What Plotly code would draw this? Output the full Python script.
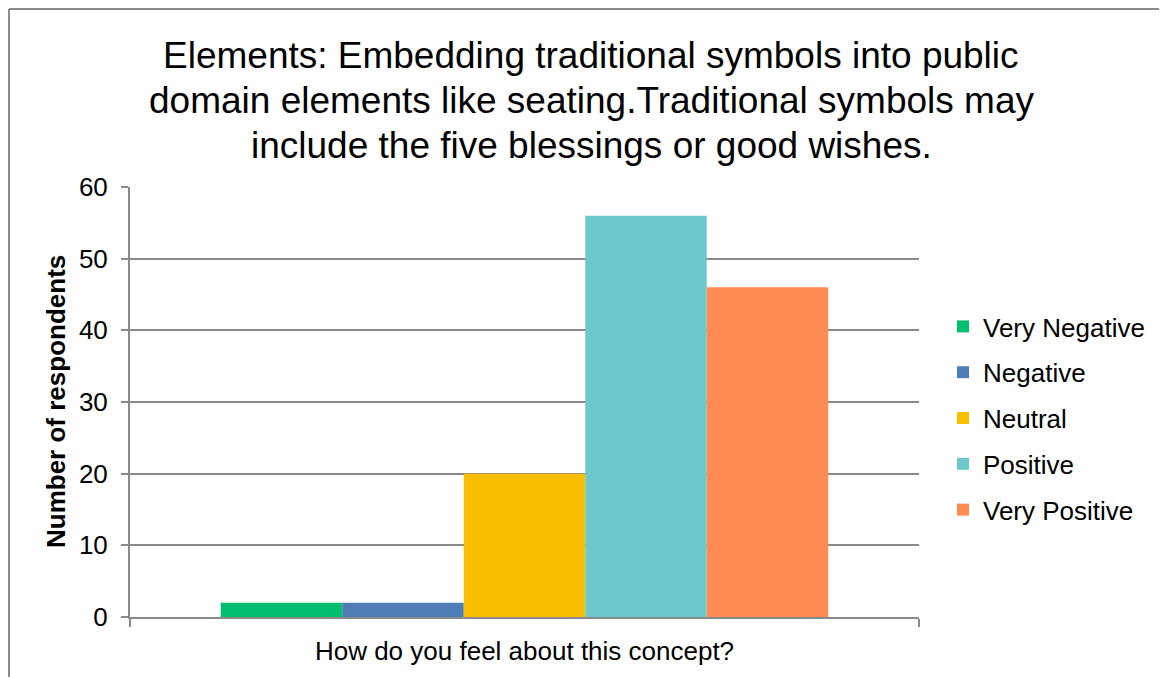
import plotly.graph_objects as go

categories = ["How do you feel about this concept?"]
series_names = ["Very Negative", "Negative", "Neutral", "Positive", "Very Positive"]
series_values = [2, 2, 20, 56, 46]
series_colors = ["#00BF6F", "#4F7DB5", "#F9BE00", "#6DC8CC", "#FF8B53"]
y_ticks = [0, 10, 20, 30, 40, 50, 60]
title_lines = [
    "Elements: Embedding traditional symbols into public",
    "domain elements like seating.Traditional symbols may",
    "include the five blessings or good wishes.",
]

# page is rendered with an 8px body margin; work in figure pixels
OFF = 8
W, H = 1159, 669
ml, mt = 130 - OFF, 187 - OFF
mr = W - (919 - OFF)
mb = H - (617 - OFF)
pw, ph = W - ml - mr, H - mt - mb


def px2x(px):
    return (px - OFF - ml) / pw


def py2y(py):
    return (H - mb - (py - OFF)) / ph


fig = go.Figure()
for name, val, col in zip(series_names, series_values, series_colors):
    fig.add_trace(go.Bar(name=name, x=categories, y=[val],
                         marker=dict(color=col, line=dict(width=0)),
                         legendgroup=name))

# outer chart border (top and left edges)
border = dict(color="#8a8a8a", width=2)
fig.add_shape(type="line", xref="paper", yref="paper", x0=px2x(9), x1=px2x(1170),
              y0=py2y(9), y1=py2y(9), line=border, layer="below")
fig.add_shape(type="line", xref="paper", yref="paper", x0=px2x(9), x1=px2x(9),
              y0=py2y(9), y1=py2y(690), line=border, layer="below")

for i, (line, cy) in enumerate(zip(title_lines, [55, 100, 145])):
    fig.add_annotation(text=line, xref="paper", yref="paper", x=px2x(591), y=py2y(cy),
                       xanchor="center", yanchor="middle", showarrow=False,
                       font=dict(size=37, color="#000000"))

fig.add_annotation(text="<b>Number of respondents</b>", textangle=-90, xref="paper", yref="paper",
                   x=px2x(56), y=0.5, xanchor="center", yanchor="middle", showarrow=False,
                   font=dict(size=26, color="#000000"))

fig.update_layout(
    width=W, height=H,
    margin=dict(l=ml, r=mr, t=mt, b=mb),
    paper_bgcolor="white", plot_bgcolor="white",
    barmode="group", bargap=0.23, bargroupgap=0,
    font=dict(family="Liberation Sans, Arial, sans-serif", color="#000000"),
    showlegend=True,
    legend=dict(x=px2x(943), xanchor="left", y=py2y(303), yanchor="top",
                font=dict(size=26), traceorder="grouped", tracegroupgap=9,
                bgcolor="rgba(0,0,0,0)"),
    xaxis=dict(showline=True, linecolor="#8a8a8a", linewidth=2, ticks="outside", tickson="boundaries",
               ticklen=8, tickcolor="#8a8a8a", tickwidth=2, tickfont=dict(size=26), showgrid=False,
               ticklabelstandoff=10),
    yaxis=dict(range=[0, 60], tickvals=y_ticks, showline=True, linecolor="#8a8a8a", linewidth=2,
               ticks="outside", ticklen=7, tickcolor="#8a8a8a", tickwidth=2,
               showgrid=True, gridcolor="#8a8a8a", gridwidth=2, zeroline=False,
               tickfont=dict(size=26), ticklabelstandoff=8),
)

fig.write_html("out.html")
